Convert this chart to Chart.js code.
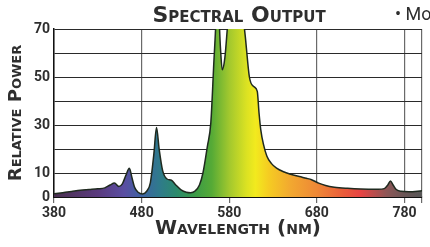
<!DOCTYPE html>
<html>
<head>
<meta charset="utf-8">
<script src="https://cdn.jsdelivr.net/npm/chart.js@4"></script>
<style>
  html, body { margin: 0; padding: 0; background: #fff; }
  #wrap { width: 430px; height: 247px; }
</style>
</head>
<body>
<div id="wrap"><canvas id="myChart" width="430" height="247"></canvas></div>
<script>
// wavelength (nm) and relative power
var wavelengths = [380, 390, 400, 410, 420, 430, 438, 444, 449, 454, 458, 462, 466, 469, 472, 476, 481,
    486, 490, 494, 497, 500, 504, 509, 514, 519, 525, 531, 536, 541, 546, 550, 555, 559, 563, 567,
    570, 572, 575, 579, 585, 592, 598, 603, 608, 612, 614, 616, 619, 623, 628, 634, 642, 650, 660,
    668, 674, 682, 690, 700, 715, 730, 750, 757, 761, 764, 767, 770, 776, 785, 800];
var power = [1.3, 1.8, 2.3, 2.8, 3.1, 3.4, 3.8, 5.0, 5.8, 4.4, 5.5, 9, 12, 8, 4, 2, 1.3,
    2.5, 6, 18, 29, 20, 11, 7.5, 7, 5, 3, 2, 1.8, 2.5, 5, 10, 21, 31, 60, 82,
    62, 53, 58, 75, 88, 85, 68, 50, 46, 44, 35, 28, 22, 17, 14, 12, 10.5, 9.5, 8.5,
    7.8, 7.2, 5.8, 4.8, 4.1, 3.6, 3.3, 3.2, 3.5, 5, 6.7, 5, 3.3, 2.4, 2.2, 2.6];
var xTicks = [380, 480, 580, 680, 780];
var yTicks = [0, 10, 30, 50, 70];

// spectrum colours along the wavelength axis
var spectrum = [
    [380, '#4a3050'], [430, '#5a3a7e'], [460, '#5a4ea2'], [480, '#3d62a2'],
    [500, '#2f7a8c'], [520, '#2b8a6c'], [540, '#3a9a48'], [560, '#55aa36'],
    [580, '#a2c82e'], [600, '#dce222'], [610, '#f2ea1e'], [625, '#f5cc22'],
    [650, '#f2a830'], [680, '#ee8836'], [710, '#e95c3a'], [730, '#e84444'],
    [760, '#8c5656'], [780, '#6a5656'], [800, '#575757']
];

var points = wavelengths.map(function (w, i) { return { x: w, y: power[i] }; });

function spectrumFill(context) {
    var chart = context.chart;
    var area = chart.chartArea;
    if (!area) return '#888';
    var xs = chart.scales.x;
    var g = chart.ctx.createLinearGradient(xs.getPixelForValue(380), 0, xs.getPixelForValue(800), 0);
    spectrum.forEach(function (s) {
        g.addColorStop((s[0] - 380) / (800 - 380), s[1]);
    });
    return g;
}

var headerText = {
    id: 'headerText',
    afterDraw: function (chart) {
        var ctx = chart.ctx;
        var area = chart.chartArea;
        ctx.save();
        ctx.fillStyle = '#2e2e2e';
        ctx.textAlign = 'center';
        ctx.textBaseline = 'alphabetic';
        ctx.font = 'small-caps bold 22px "DejaVu Sans"';
        ctx.fillText('Spectral Output', (area.left + area.right) / 2 + 1, 22);
        ctx.textAlign = 'left';
        ctx.font = '18px "Liberation Sans Narrow", "Roboto"';
        ctx.fillText('\u2022 Mo', 395, 20);
        ctx.restore();
    }
};

var ctx = document.getElementById('myChart').getContext('2d');
var chart = new Chart(ctx, {
    type: 'line',
    data: {
        datasets: [{
            label: 'Relative Power',
            data: points,
            cubicInterpolationMode: 'monotone',
            fill: 'origin',
            backgroundColor: spectrumFill,
            borderColor: '#1f2a1f',
            borderWidth: 1.5,
            pointRadius: 0
        }]
    },
    options: {
        responsive: false,
        animation: false,
        layout: { padding: { top: 29, right: 8, left: 0, bottom: 0 } },
        plugins: {
            legend: { display: false },
            tooltip: { enabled: false }
        },
        scales: {
            x: {
                type: 'linear',
                min: 380,
                max: 800,
                afterFit: function (s) { s.height = 50; },
                afterBuildTicks: function (s) {
                    s.ticks = xTicks.concat([800]).map(function (v) { return { value: v }; });
                },
                ticks: {
                    padding: 2,
                    color: '#2e2e2e',
                    font: { family: '"Liberation Sans Narrow", "Roboto"', size: 14, weight: 'bold' },
                    callback: function (v) { return xTicks.indexOf(v) >= 0 ? v : ''; }
                },
                grid: { color: '#6a6a6a', lineWidth: 1.2, tickLength: 6 },
                border: { color: '#111', width: 2 },
                title: {
                    display: true,
                    text: 'Wavelength (nm)',
                    color: '#2e2e2e',
                    padding: { top: 0, bottom: 6 },
                    font: { family: '"DejaVu Sans"', size: 20, weight: 'small-caps bold' }
                }
            },
            y: {
                min: 0,
                max: 70,
                afterFit: function (s) { s.width = 54; },
                ticks: {
                    stepSize: 10,
                    padding: 4,
                    color: '#2e2e2e',
                    font: { family: '"Liberation Sans Narrow", "Roboto"', size: 14, weight: 'bold' },
                    callback: function (v) { return yTicks.indexOf(v) >= 0 ? v : ''; }
                },
                grid: { color: '#2a2a2a', lineWidth: 1, drawTicks: false },
                border: { color: '#111', width: 1.5 },
                title: {
                    display: true,
                    text: 'Relative Power',
                    color: '#2e2e2e',
                    padding: { top: 6, bottom: 0 },
                    font: { family: '"DejaVu Sans"', size: 18, weight: 'small-caps bold' }
                }
            }
        }
    },
    plugins: [headerText]
});
</script>
</body>
</html>
